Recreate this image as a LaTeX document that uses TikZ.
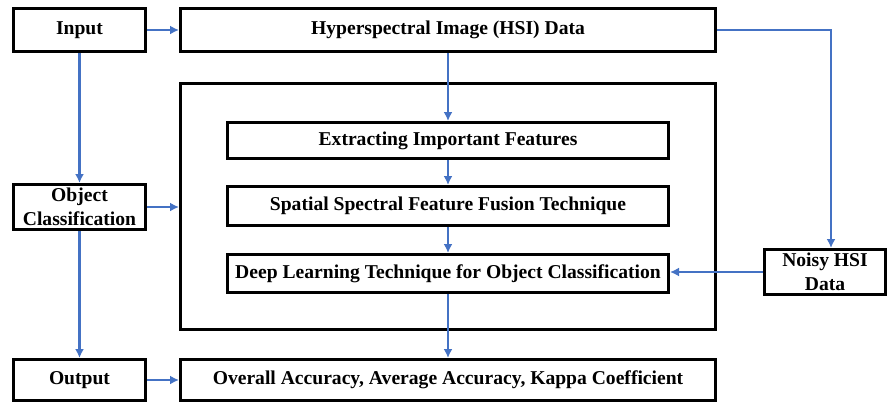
\documentclass[tikz,border=0pt]{standalone}
\usepackage{fontspec}
\setmainfont{Liberation Serif}
\usetikzlibrary{arrows.meta}
\definecolor{flowblue}{HTML}{4472C4}
\begin{document}
\begin{tikzpicture}[x=1pt,y=-1pt,
        box/.style={draw,line width=3pt,inner sep=0pt,align=center,
            font=\bfseries\fontsize{19.6}{24}\selectfont},
        flow/.style={draw=flowblue,line width=2.8pt,-{Latex[length=9pt,width=9pt]}}]
        \useasboundingbox (0,0) rectangle (888,405);

        \node[box,minimum width=132pt,minimum height=43pt] (inp)   at (79.5,  30) {Input};
        \node[box,minimum width=535pt,minimum height=43pt] (hsi)   at (448,   30) {Hyperspectral Image (HSI) Data};
        \node[box,minimum width=535pt,minimum height=246pt] (frame) at (448, 206.5) {};
        \node[box,minimum width=441pt,minimum height=36pt] (feat)  at (448, 140.5) {Extracting Important Features};
        \node[box,minimum width=441pt,minimum height=39pt] (fuse)  at (448,  206) {Spatial Spectral Feature Fusion Technique};
        \node[box,minimum width=441pt,minimum height=38pt] (deep)  at (448, 273.5) {Deep Learning Technique for Object Classification};
        \node[box,minimum width=132pt,minimum height=45pt] (obj)   at (79.5, 207) {Object\\Classification};
        \node[box,minimum width=121pt,minimum height=45pt] (noisy) at (825,  272) {Noisy HSI\\Data};
        \node[box,minimum width=132pt,minimum height=41pt] (outp)  at (79.5, 380) {Output};
        \node[box,minimum width=535pt,minimum height=41pt] (res)   at (448,  380) {Overall Accuracy, Average Accuracy, Kappa Coefficient};

        \draw[flow] (inp) -- (hsi);
        \draw[flow] (inp) -- (obj);
        \draw[flow] (obj) -- (outp);
        \draw[flow] (obj.east) -- (frame.west |- obj.east);
        \draw[flow] (outp) -- (res);
        \draw[flow] (hsi) -- (feat);
        \draw[flow] (feat) -- (fuse);
        \draw[flow] (fuse) -- (deep);
        \draw[flow] (deep) -- (res);
        \draw[flow] (hsi.east) -| ([xshift=6pt]noisy.north);
        \draw[flow] (noisy.west) -- (noisy.west -| deep.east);
    \end{tikzpicture}
\end{document}
